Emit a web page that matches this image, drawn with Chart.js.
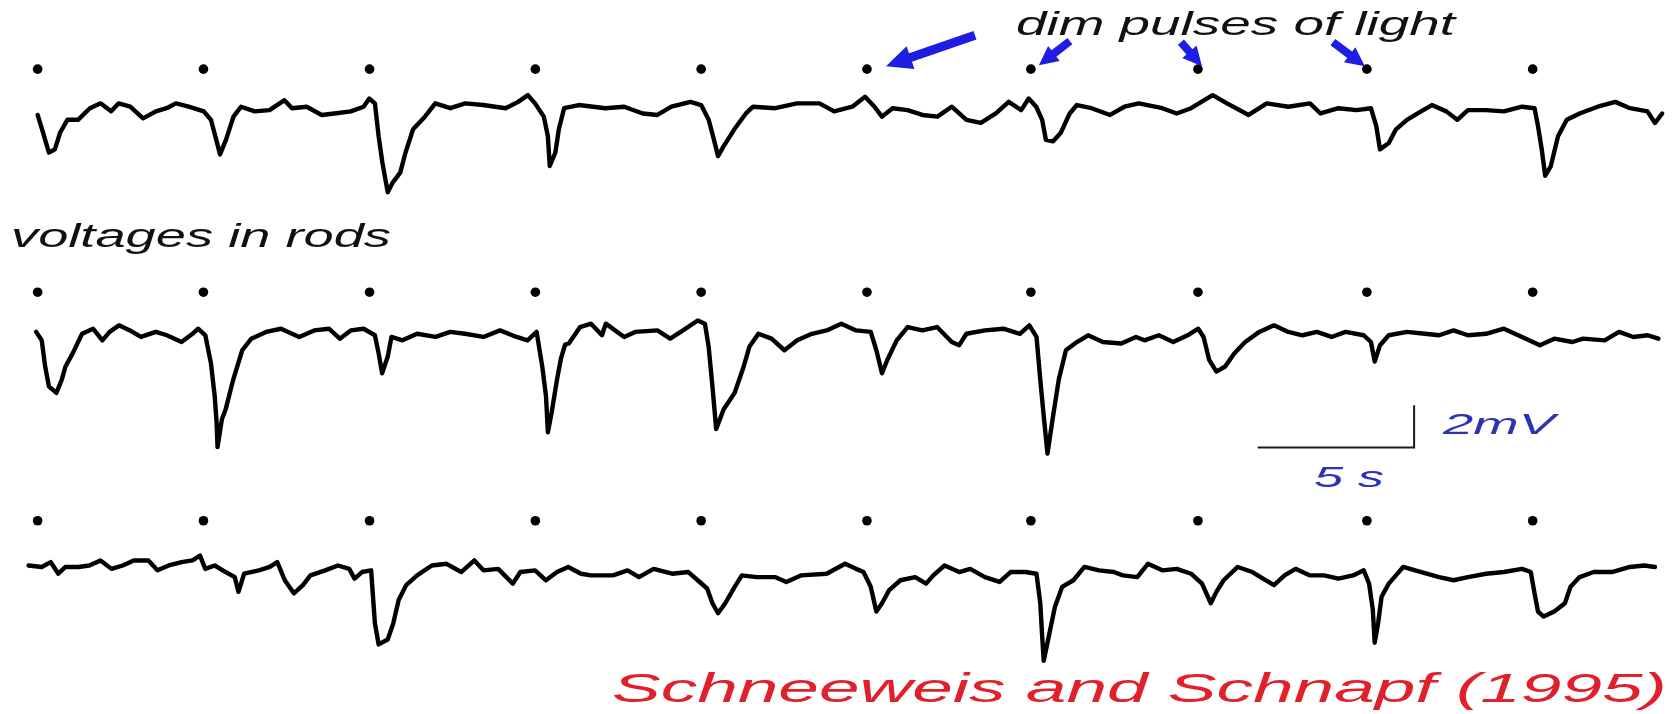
<!DOCTYPE html>
<html>
<head>
<meta charset="utf-8">
<script src="https://cdn.jsdelivr.net/npm/chart.js@4.4.1/dist/chart.umd.min.js"></script>
<style>
  html, body { margin:0; padding:0; background:#fff; }
  #wrap { position:relative; width:1677px; height:714px; overflow:hidden; background:#fff; }
  #plot { position:absolute; left:0; top:0; }
  .lbl { position:absolute; font-family:"Liberation Sans", Arial, sans-serif; font-style:italic; line-height:1; white-space:nowrap; transform-origin:0 0; }
</style>
</head>
<body>
<div id="wrap"><canvas id="plot" width="1677" height="714"></canvas></div>
<script>
// rod voltage traces, [time s, mV relative to resting level]
const trace1 = [
  [0.05,-0.32],[0.22,-1.15],[0.41,-2.10],[0.60,-1.95],[0.77,-1.15],[1.00,-0.55],[1.34,-0.55],[1.72,0],[2.06,0.23],[2.40,-0.15],
  [2.64,0.23],[3.01,0.07],[3.42,-0.48],[3.83,-0.15],[4.17,0],[4.47,0.23],[4.88,0.07],[5.36,-0.15],[5.59,-0.55],[5.76,-1.50],
  [5.88,-2.19],[6.07,-1.50],[6.31,-0.40],[6.55,0.07],[6.99,-0.15],[7.46,-0.09],[7.94,0.38],[8.18,0],[8.65,0.07],[9.13,-0.32],
  [9.60,-0.24],[10.06,-0.15],[10.47,0.07],[10.65,0.46],[10.83,0.23],[10.95,-1.33],[11.07,-2.58],[11.24,-3.98],[11.41,-3.50],[11.64,-3.05],
  [11.81,-2.10],[12.05,-1.00],[12.43,-0.40],[12.76,0.23],[13.24,0],[13.72,0.23],[14.29,0.15],[15.01,0],[15.41,0.30],[15.72,0.62],
  [15.95,0.23],[16.23,-0.40],[16.36,-1.33],[16.42,-2.74],[16.60,-2.10],[16.71,-1.00],[16.88,0],[17.35,0.15],[18.20,0],[18.80,0.07],
  [19.39,-0.25],[19.86,-0.32],[20.31,0.07],[20.92,0.30],[21.26,0.15],[21.50,-0.55],[21.67,-1.50],[21.80,-2.27],[21.98,-1.80],[22.32,-1.00],
  [22.69,-0.25],[22.92,0.07],[23.63,0],[24.32,0.23],[25.04,0.23],[25.51,-0.15],[26.09,0.07],[26.50,0.54],[26.80,0.07],[27.04,-0.40],
  [27.38,0],[27.86,-0.09],[28.33,-0.32],[28.81,-0.40],[29.27,0.07],[29.74,-0.55],[30.20,-0.70],[30.68,-0.25],[31.09,0.30],[31.49,-0.09],
  [31.73,0.46],[31.97,0.07],[32.16,-0.55],[32.28,-1.50],[32.51,-1.57],[32.75,-1.18],[33.04,-0.25],[33.27,0.15],[33.74,0],[34.33,-0.32],
  [34.79,0.07],[35.25,0.23],[36.00,0],[36.46,-0.25],[36.92,0],[37.61,0.62],[38.07,0.23],[38.76,-0.32],[39.34,0.23],[40.03,0.07],
  [40.72,0.23],[41.06,-0.25],[41.63,0],[42.21,-0.09],[42.67,0],[42.84,-0.85],[42.96,-1.95],[43.24,-1.65],[43.47,-1.00],[43.82,-0.55],
  [44.27,-0.15],[44.62,0.15],[45.08,-0.15],[45.43,-0.55],[45.77,-0.09],[46.35,-0.09],[46.92,-0.15],[47.50,0.07],[47.90,0],[48.01,-0.85],
  [48.13,-1.95],[48.24,-3.20],[48.42,-2.74],[48.65,-1.33],[48.93,-0.55],[49.34,-0.25],[49.92,0.07],[50.48,0.30],[50.95,0],[51.51,-0.15],
  [51.75,-0.70],[51.98,-0.25]
];
const trace2 = [
  [0.00,0.05],[0.18,-0.35],[0.29,-1.59],[0.41,-2.53],[0.65,-2.84],[0.82,-2.22],[0.94,-1.59],[1.17,-0.97],[1.47,-0.04],[1.82,0.20],
  [2.12,-0.35],[2.35,0.05],[2.65,0.36],[3.00,0.12],[3.35,-0.19],[3.83,0.05],[4.18,-0.11],[4.65,-0.43],[5.00,-0.04],[5.18,0.20],
  [5.41,-0.11],[5.59,-1.44],[5.71,-3.00],[5.77,-4.24],[5.80,-5.41],[5.94,-4.09],[6.06,-3.62],[6.30,-2.22],[6.59,-0.82],[6.88,-0.27],
  [7.35,0.05],[7.83,0.20],[8.41,-0.19],[8.89,0.12],[9.36,0.20],[9.71,-0.27],[10.06,0.12],[10.47,0.20],[10.83,-0.11],[10.95,-0.97],
  [11.06,-1.91],[11.24,-1.13],[11.36,-0.19],[11.71,-0.35],[12.18,-0.04],[12.77,-0.19],[13.24,0.05],[13.71,-0.04],[14.30,-0.19],[14.83,0.12],
  [15.36,-0.19],[15.71,-0.35],[16.00,0.05],[16.18,-1.59],[16.30,-3.00],[16.36,-4.71],[16.48,-3.78],[16.65,-2.22],[16.78,-1.20],[16.91,-0.55],
  [17.03,-0.50],[17.39,0.28],[17.74,0.44],[18.09,-0.11],[18.21,0.44],[18.80,-0.19],[19.15,0.05],[19.86,0.12],[20.27,-0.27],[20.68,0.12],
  [21.15,0.59],[21.38,0.44],[21.50,-0.66],[21.62,-2.53],[21.74,-4.55],[21.98,-3.62],[22.33,-2.84],[22.62,-1.59],[22.80,-0.66],[23.09,-0.04],
  [23.51,-0.27],[23.92,-0.82],[24.33,-0.35],[24.80,-0.04],[25.27,0.12],[25.74,0.44],[26.21,0.12],[26.68,0.05],[26.86,-0.82],[27.04,-1.91],
  [27.21,-1.28],[27.51,-0.35],[27.86,0.28],[28.33,0.12],[28.80,0.28],[29.27,-0.43],[29.51,-0.58],[29.74,-0.04],[30.33,0.12],[30.92,0.20],
  [31.45,-0.04],[31.75,0.36],[31.98,-0.19],[32.10,-2.22],[32.21,-3.93],[32.33,-5.72],[32.51,-3.93],[32.69,-2.22],[32.92,-0.82],[33.27,-0.43],
  [33.63,-0.11],[34.10,-0.43],[34.69,-0.50],[35.16,-0.19],[35.43,-0.35],[35.89,-0.11],[36.35,-0.43],[36.81,-0.11],[37.15,0.20],[37.32,-0.19],
  [37.50,-1.28],[37.73,-1.83],[38.01,-1.59],[38.30,-0.97],[38.65,-0.43],[39.10,0.05],[39.57,0.36],[40.03,0.05],[40.48,-0.11],[40.94,0.05],
  [41.41,-0.19],[41.86,0.05],[42.44,-0.11],[42.67,-0.43],[42.79,-1.36],[42.96,-0.58],[43.24,-0.11],[43.82,0.05],[44.39,-0.04],[44.85,-0.11],
  [45.31,0.12],[45.77,-0.11],[46.35,-0.04],[46.92,0.20],[47.50,-0.19],[48.07,-0.58],[48.53,-0.27],[49.11,-0.43],[49.45,-0.27],[50.14,-0.35],
  [50.60,0.05],[51.06,-0.19],[51.52,-0.11],[51.86,-0.27]
];
const trace3 = [
  [-0.24,0.08],[0.18,0.01],[0.47,0.24],[0.71,-0.31],[0.94,0.01],[1.35,0.01],[1.70,0.08],[2.06,0.32],[2.41,-0.08],[2.77,0.08],
  [3.12,0.32],[3.59,0.32],[3.88,-0.15],[4.24,0.08],[4.65,0.24],[5.00,0.32],[5.24,0.55],[5.41,-0.08],[5.71,0.08],[6.06,-0.23],
  [6.35,-0.47],[6.47,-1.17],[6.65,-0.31],[7.12,-0.15],[7.47,0.01],[7.71,0.24],[7.95,-0.62],[8.24,-1.24],[8.53,-0.85],[8.77,-0.39],
  [9.24,-0.15],[9.65,0.08],[10.01,-0.08],[10.18,-0.54],[10.42,-0.23],[10.71,-0.15],[10.77,-1.40],[10.83,-2.65],[10.95,-3.66],[11.24,-3.43],
  [11.42,-2.65],[11.59,-1.56],[11.83,-0.85],[12.18,-0.39],[12.65,0.08],[13.12,0.16],[13.59,-0.23],[14.01,0.32],[14.30,-0.15],[14.77,-0.08],
  [15.24,-0.78],[15.48,-0.23],[15.95,-0.15],[16.30,-0.62],[16.65,-0.23],[17.01,0.01],[17.42,-0.31],[17.74,-0.39],[18.44,-0.39],[18.91,-0.15],
  [19.27,-0.47],[19.74,-0.08],[20.33,-0.31],[20.85,-0.23],[21.15,-0.62],[21.45,-1.01],[21.62,-1.71],[21.80,-2.18],[22.03,-1.71],[22.33,-0.93],
  [22.56,-0.39],[23.03,-0.47],[23.62,-0.47],[23.98,-0.70],[24.45,-0.39],[25.27,-0.31],[25.86,0.16],[26.21,-0.08],[26.45,-0.23],[26.68,-0.93],
  [26.86,-2.10],[27.04,-1.71],[27.27,-1.09],[27.63,-0.62],[28.10,-0.47],[28.45,-0.78],[28.68,-0.39],[29.04,0.08],[29.51,-0.23],[29.86,-0.08],
  [30.33,-0.47],[30.80,-0.70],[31.15,-0.23],[31.63,-0.23],[31.98,-0.31],[32.10,-1.71],[32.16,-3.27],[32.21,-4.44],[32.33,-3.58],[32.57,-1.87],
  [32.80,-0.93],[33.16,-0.62],[33.51,0.01],[33.98,-0.15],[34.45,-0.23],[34.74,-0.39],[35.20,-0.47],[35.54,0.16],[36.00,-0.15],[36.46,-0.08],
  [36.92,-0.31],[37.27,-0.78],[37.55,-1.71],[37.73,-1.17],[37.96,-0.62],[38.41,0.01],[38.88,-0.23],[39.22,-0.54],[39.57,-0.85],[39.91,-0.39],
  [40.26,-0.08],[40.72,-0.39],[41.17,-0.39],[41.63,-0.54],[42.10,-0.39],[42.44,-0.15],[42.61,-0.78],[42.73,-2.02],[42.79,-3.58],[42.90,-2.65],
  [43.01,-1.40],[43.24,-0.78],[43.47,-0.39],[43.70,0.01],[44.28,-0.23],[44.85,-0.47],[45.31,-0.62],[45.77,-0.47],[46.35,-0.31],[46.92,-0.23],
  [47.50,-0.08],[47.78,-0.23],[47.90,-1.24],[48.01,-2.10],[48.19,-2.34],[48.53,-2.10],[48.87,-1.71],[49.05,-0.93],[49.34,-0.47],[49.79,-0.23],
  [50.37,-0.23],[50.95,0.01],[51.41,0.08],[51.75,0.01]
];

// times of the dim light flashes (s) and where the marker dots sit above each trace (mV)
const flashTimes = [0.05, 5.35, 10.66, 15.96, 21.26, 26.56, 31.80, 37.14, 42.54, 47.84];
const dotLevels = [1.85, 1.93, 2.2];

// calibration bar: 5 s by 2 mV, drawn against trace 2
const scaleBarT = [39.05, 44.05, 44.05];
const scaleBarV = [-5.43, -5.43, -3.43];

// flashes picked out by the blue arrows (index into flashTimes)
const arrowFlashes = [5, 6, 7, 8];

(function(){
  const SPAN = 33.38; // mV shown over the full canvas height
  const rowTop = [4.90, 15.55, 26.65];

  const pts = arr => arr.map(p => ({ x: p[0], y: p[1] }));
  const traceSet = (arr, axis) => ({
    type: 'line', data: pts(arr), yAxisID: axis,
    borderColor: '#000', borderWidth: 4.4, pointRadius: 0, tension: 0,
    borderJoinStyle: 'round', borderCapStyle: 'round', clip: false
  });
  const dotSet = (lvl, axis) => ({
    type: 'scatter', data: flashTimes.map(t => ({ x: t, y: lvl })), yAxisID: axis,
    backgroundColor: '#000', borderColor: '#000', pointRadius: 4.8, borderWidth: 0
  });

  // arrows: tail and tip offsets (px) from the dot they point at
  const arrowGeom = [
    { tail: [108, -34], tip: [19, -3], shaft: 9, headL: 26, headW: 24 },
    { tail: [39, -28],  tip: [8, -4],  shaft: 8, headL: 19, headW: 19 },
    { tail: [-17, -27], tip: [4, -3],  shaft: 8, headL: 19, headW: 19 },
    { tail: [-34, -27], tip: [-2, -3], shaft: 8, headL: 19, headW: 19 }
  ];

  function drawArrow(ctx, x0, y0, x1, y1, g){
    const dx = x1 - x0, dy = y1 - y0, len = Math.hypot(dx, dy);
    const ux = dx / len, uy = dy / len, nx = -uy, ny = ux;
    const bx = x1 - ux * g.headL, by = y1 - uy * g.headL;
    const s = g.shaft / 2, h = g.headW / 2;
    ctx.beginPath();
    ctx.moveTo(x0 + nx * s, y0 + ny * s);
    ctx.lineTo(bx + nx * s, by + ny * s);
    ctx.lineTo(bx + nx * h, by + ny * h);
    ctx.lineTo(x1, y1);
    ctx.lineTo(bx - nx * h, by - ny * h);
    ctx.lineTo(bx - nx * s, by - ny * s);
    ctx.lineTo(x0 - nx * s, y0 - ny * s);
    ctx.closePath();
    ctx.fill();
  }

  const arrowPlugin = {
    id: 'arrows',
    afterDatasetsDraw(chart){
      const ctx = chart.ctx;
      const dots = chart.getDatasetMeta(3).data;
      ctx.save();
      ctx.fillStyle = '#1d1de3';
      arrowFlashes.forEach((fi, k) => {
        const d = dots[fi], g = arrowGeom[k];
        drawArrow(ctx, d.x + g.tail[0], d.y + g.tail[1], d.x + g.tip[0], d.y + g.tip[1], g);
      });
      ctx.restore();
    }
  };

  const yAxis = top => ({ type: 'linear', display: false, min: top - SPAN, max: top });

  new Chart(document.getElementById('plot'), {
    type: 'line',
    data: {
      datasets: [
        traceSet(trace1, 'y1'), traceSet(trace2, 'y2'), traceSet(trace3, 'y3'),
        dotSet(dotLevels[0], 'y1'), dotSet(dotLevels[1], 'y2'), dotSet(dotLevels[2], 'y3'),
        {
          type: 'line', yAxisID: 'y2',
          data: scaleBarT.map((t, i) => ({ x: t, y: scaleBarV[i] })),
          borderColor: '#1a1a2a', borderWidth: 2, pointRadius: 0, tension: 0, clip: false
        }
      ]
    },
    options: {
      responsive: false, animation: false, devicePixelRatio: 1,
      layout: { padding: 0 },
      plugins: { legend: { display: false }, tooltip: { enabled: false } },
      scales: {
        x: { type: 'linear', display: false, min: -1.0, max: 52.3 },
        y1: yAxis(rowTop[0]), y2: yAxis(rowTop[1]), y3: yAxis(rowTop[2])
      }
    },
    plugins: [arrowPlugin]
  });

  // labels, stretched sideways like the scanned figure
  const labels = [
    { text: 'dim pulses of light', left: 1016, top: 7, size: 33, width: 439, color: '#111' },
    { text: 'voltages in rods', left: 11, top: 219, size: 33, width: 380, color: '#111' },
    { text: '2mV', left: 1443, top: 409, size: 30, width: 112, color: '#2d33b4' },
    { text: '5 s', left: 1314, top: 462, size: 30, width: 70, color: '#2d33b4' },
    { text: 'Schneeweis and Schnapf (1995)', left: 612, top: 668, size: 41, width: 1055, color: '#e0212b' }
  ];
  const wrap = document.getElementById('wrap');
  labels.forEach(l => {
    const el = document.createElement('span');
    el.className = 'lbl';
    el.textContent = l.text;
    el.style.left = l.left + 'px';
    el.style.top = l.top + 'px';
    el.style.fontSize = l.size + 'px';
    el.style.color = l.color;
    wrap.appendChild(el);
    const w = el.getBoundingClientRect().width;
    el.style.transform = 'scaleX(' + (l.width / w).toFixed(3) + ')';
  });
})();
</script>
</body>
</html>
